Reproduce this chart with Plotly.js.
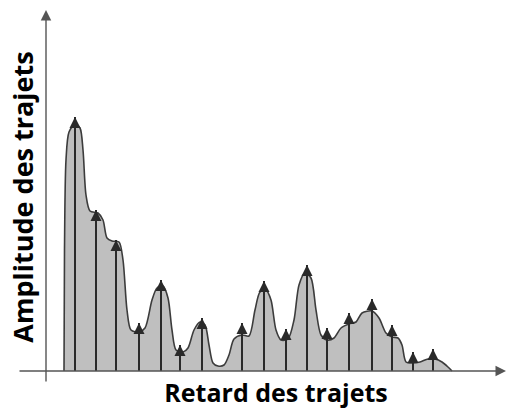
<!DOCTYPE html>
<html>
<head>
<meta charset="utf-8">
<script src="https://cdn.plot.ly/plotly-3.0.1.min.js"></script>
<style>html,body{margin:0;padding:0;background:#fff}#chart{width:508px;height:410px}</style>
</head>
<body>
<div id="chart"></div>
<script>
// Envelope of the power delay profile (retard, amplitude) – arbitrary units
const envelopeDelay = [18,18.5,20,23,29,34,37,40,44,52,57,61,66,73,77,81,85,93,99,106,111,117,122,126,130,137,142,148,154,159,163,167,172,178,183,188,196,203,209,214,220,225,230,235,242,248,253,259,265,270,275,281,288,295,303,310,316,326,333,340,346,352,356,360,367,374,382,389,396,402,406];
const envelopeAmplitude = [0,121,211,239,247,243,221,176,160,158,151,133,130,129,111,61,41,39,43,71,83,85,73,41,21,19,23,41,49,46,26,8,5,6,16,32,36,35,61,79,81,71,41,31,32,51,86,98,93,61,36,31,33,43,47,49,58,60,53,38,34,33,26,9,8,9,12,12,9,4,0];

// Individual paths (arrows)
const pathDelay = [29,50,70,93,115,134,156,196,218,240,261,281,303,326,346,367,387];
const pathAmplitude = [254,161,131,48,91,26,53,48,90,42,106,43,58,72,46,19,22];

const xLabel = "Retard des trajets";
const yLabel = "Amplitude des trajets";

const xFont = {family: '"Open Sans", Lato, sans-serif', size: 25, color: '#000', weight: 700};
const yFont = {family: '"Open Sans", Lato, sans-serif', size: 27, color: '#000', weight: 700};

const envelope = {
  x: envelopeDelay, y: envelopeAmplitude,
  type: 'scatter', mode: 'lines',
  line: {shape: 'spline', smoothing: 0.8, color: '#3c3c3c', width: 1.6},
  fill: 'tozeroy', fillcolor: '#bfbfbf',
  hoverinfo: 'skip', showlegend: false
};

const stems = {
  x: pathDelay.flatMap(d => [d, d, null]),
  y: pathAmplitude.flatMap(a => [0, a, null]),
  type: 'scatter', mode: 'lines',
  line: {color: '#2a2a2a', width: 2},
  showlegend: false, hoverinfo: 'skip'
};

const arrowHeads = pathDelay.map((d, i) => ({
  x: d, y: pathAmplitude[i], xref: 'x', yref: 'y',
  ax: d, ay: Math.max(pathAmplitude[i] - 12, 0), axref: 'x', ayref: 'y',
  showarrow: true, arrowhead: 2, arrowsize: 1.0, arrowwidth: 2.2,
  arrowcolor: '#2a2a2a', standoff: 0, text: ''
}));

const axisArrows = [
  {xref: 'paper', yref: 'y', x: 1, y: 0, ax: -488, ay: 0,
   showarrow: true, arrowhead: 2, arrowsize: 1.5, arrowwidth: 1.4, arrowcolor: '#555', standoff: 0, text: ''},
  {xref: 'paper', yref: 'paper', x: 0, y: 1, ax: 0, ay: 373,
   showarrow: true, arrowhead: 2, arrowsize: 1.5, arrowwidth: 1.4, arrowcolor: '#555', standoff: 0, text: ''}
];

const layout = {
  width: 508, height: 410,
  margin: {l: 46, r: 2, t: 10, b: 26},
  paper_bgcolor: '#fff', plot_bgcolor: '#fff',
  showlegend: false,
  xaxis: {range: [0, 460], showgrid: false, zeroline: false, showline: false,
          showticklabels: false, ticks: '', fixedrange: true,
          title: {text: xLabel, standoff: 0, font: xFont}},
  yaxis: {range: [-13, 361], showgrid: false, zeroline: false, showline: false,
          showticklabels: false, ticks: '', fixedrange: true,
          title: {text: yLabel, standoff: 3, font: yFont}},
  annotations: arrowHeads.concat(axisArrows)
};

Plotly.newPlot('chart', [envelope, stems], layout, {displayModeBar: false, staticPlot: true});
</script>
</body>
</html>
